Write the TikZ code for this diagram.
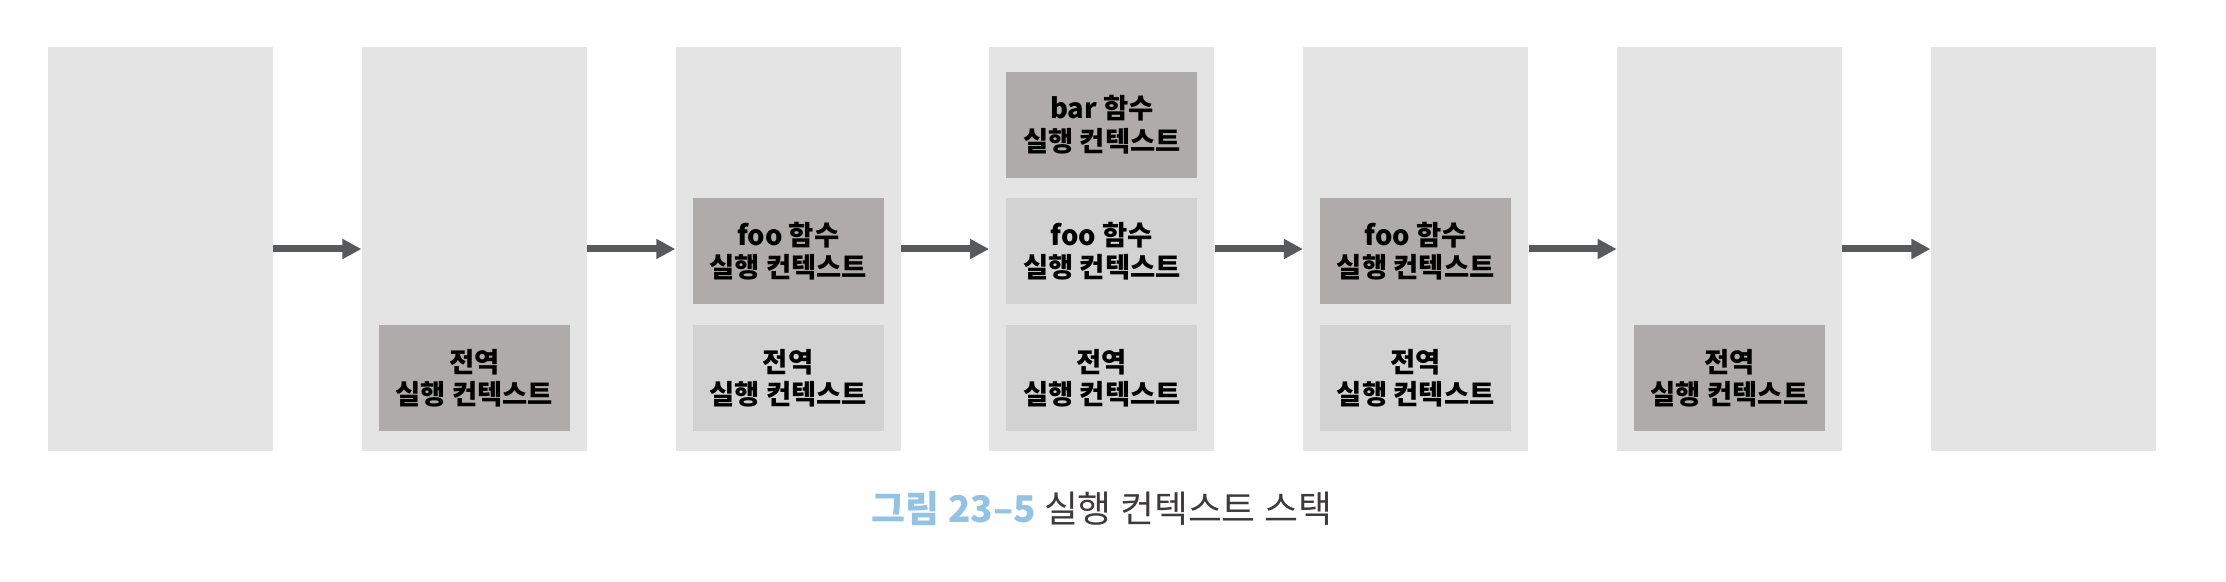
\documentclass[tikz,border=0pt]{standalone}
\usepackage{fontspec}
\newfontfamily\cjk{Noto Sans CJK KR}
\usepackage{tikz}
\usetikzlibrary{arrows.meta,positioning}
\definecolor{stackgray}{HTML}{E4E4E4}
\definecolor{ctxdark}{HTML}{AEABAA}
\definecolor{ctxlight}{HTML}{D3D2D2}
\definecolor{arrowgray}{HTML}{58595B}
\definecolor{captionblue}{HTML}{94C2E5}
\definecolor{captiongray}{HTML}{3C3A3B}

\begin{document}
\begin{tikzpicture}
% STYLES
\tikzset{%
    stack/.style={%
    rectangle,
    fill=stackgray,
    inner sep=0pt,
    minimum width=4.5cm,
    minimum height=8.08cm}
    }
\tikzset{%
    ctx/.style={%
    rectangle,
    inner sep=0pt,
    %text width=3.5cm,
    align=center,
    minimum width=3.82cm,
    minimum height=2.12cm,
    font=\cjk\bfseries\fontsize{15.6}{18.4}\selectfont}
    }
\tikzset{ctxtop/.style={ctx, fill=ctxdark}}
\tikzset{ctxlow/.style={ctx, fill=ctxlight}}
\tikzset{%
    push/.style={%
    -{Triangle[length=3.8mm,width=3.8mm]},
    line width=1.4mm,
    color=arrowgray}
    }

\useasboundingbox (0,0) rectangle (44.52,-11.64);

% Draw stacks
\node [stack] (Start) at (3.21,-4.98) {};
\node [stack, right=1.762cm of Start] (GlobalOnly) {};
\node [stack, right=1.762cm of GlobalOnly] (FooPushed) {};
\node [stack, right=1.762cm of FooPushed] (BarPushed) {};
\node [stack, right=1.762cm of BarPushed] (BarPopped) {};
\node [stack, right=1.762cm of BarPopped] (FooPopped) {};
\node [stack, right=1.762cm of FooPopped] (End) {};

% Draw execution contexts
\node [ctxtop, above=4mm of GlobalOnly.south] (GlobalA) {전역\\실행 컨텍스트};

\node [ctxlow, above=4mm of FooPushed.south] (GlobalB) {전역\\실행 컨텍스트};
\node [ctxtop, above=4mm of GlobalB] (FooB) {foo 함수\\실행 컨텍스트};

\node [ctxlow, above=4mm of BarPushed.south] (GlobalC) {전역\\실행 컨텍스트};
\node [ctxlow, above=4mm of GlobalC] (FooC) {foo 함수\\실행 컨텍스트};
\node [ctxtop, above=4mm of FooC] (BarC) {bar 함수\\실행 컨텍스트};

\node [ctxlow, above=4mm of BarPopped.south] (GlobalD) {전역\\실행 컨텍스트};
\node [ctxtop, above=4mm of GlobalD] (FooD) {foo 함수\\실행 컨텍스트};

\node [ctxtop, above=4mm of FooPopped.south] (GlobalE) {전역\\실행 컨텍스트};

% Draw the links between stacks
\path[push]
(Start) edge (GlobalOnly)
(GlobalOnly) edge (FooPushed)
(FooPushed) edge (BarPushed)
(BarPushed) edge (BarPopped)
(BarPopped) edge (FooPopped)
(FooPopped) edge (End);

% Caption
\node [font=\cjk\fontsize{21}{25}\selectfont, text=captiongray] (Caption) at ([yshift=-11.4mm]BarPushed.south) {\textcolor{captionblue}{\bfseries 그림 23–5} 실행 컨텍스트 스택};

\end{tikzpicture}
\end{document}
